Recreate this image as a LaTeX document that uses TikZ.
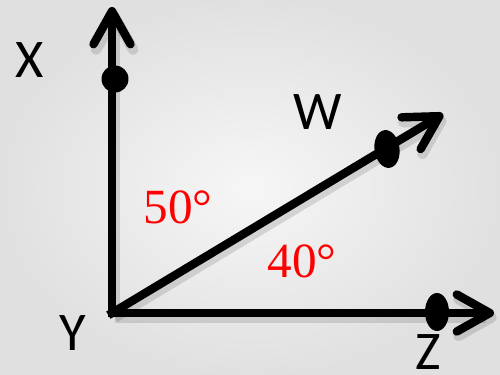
\documentclass[tikz,border=0pt]{standalone}
\usepackage{fontspec}
\setmainfont{Carlito}
\newfontfamily\degfont{Liberation Serif}
\usetikzlibrary{arrows.meta,shapes.geometric}

\begin{document}
\begin{tikzpicture}[
  x=0.02cm, y=-0.02cm,
  ray/.style={line width=4.8pt, line cap=rect,
              -{Straight Barb[length=6.6mm, width=7.4mm, round]},
              preaction={draw=black, opacity=0.12, line width=6pt,
                         transform canvas={shift={(1.5pt,-2.5pt)}}}},
  dot/.style={fill=black, inner sep=0pt},
  lbl/.style={font=\fontsize{31}{31}\selectfont},
  deg/.style={text=red, font=\degfont\fontsize{28}{28}\selectfont}
]
% background
\useasboundingbox (0,0) rectangle (500,375);
\shade[inner color=gray!7, outer color=gray!24] (0,0) rectangle (500,375);

% rays
\coordinate (y) at (112,313);
\coordinate (xend) at (112,7);
\coordinate (zend) at (494,313);
\coordinate (wend) at (443,114);
\draw[ray] (y) -- (xend);
\draw[ray] (y) -- (zend);
\draw[ray] (y) -- (wend);

% points on the rays
\node[dot, circle, minimum size=0.54cm] (px) at (115,79) {};
\node[dot, ellipse, minimum width=0.48cm, minimum height=0.76cm] (pz) at (437,312) {};
\node[dot, ellipse, minimum width=0.5cm, minimum height=0.76cm, rotate=8] (pw) at (387,149) {};

% labels
\node[lbl] (labx) at (30,60) {X};
\node[lbl] (labw) at (318,112) {W};
\node[lbl] (laby) at (73,333) {Y};
\node[lbl] (labz) at (428,352) {Z};
\node[deg] (a50) at (178,207) {50°};
\node[deg] (a40) at (302,261) {40°};
\end{tikzpicture}
\end{document}
